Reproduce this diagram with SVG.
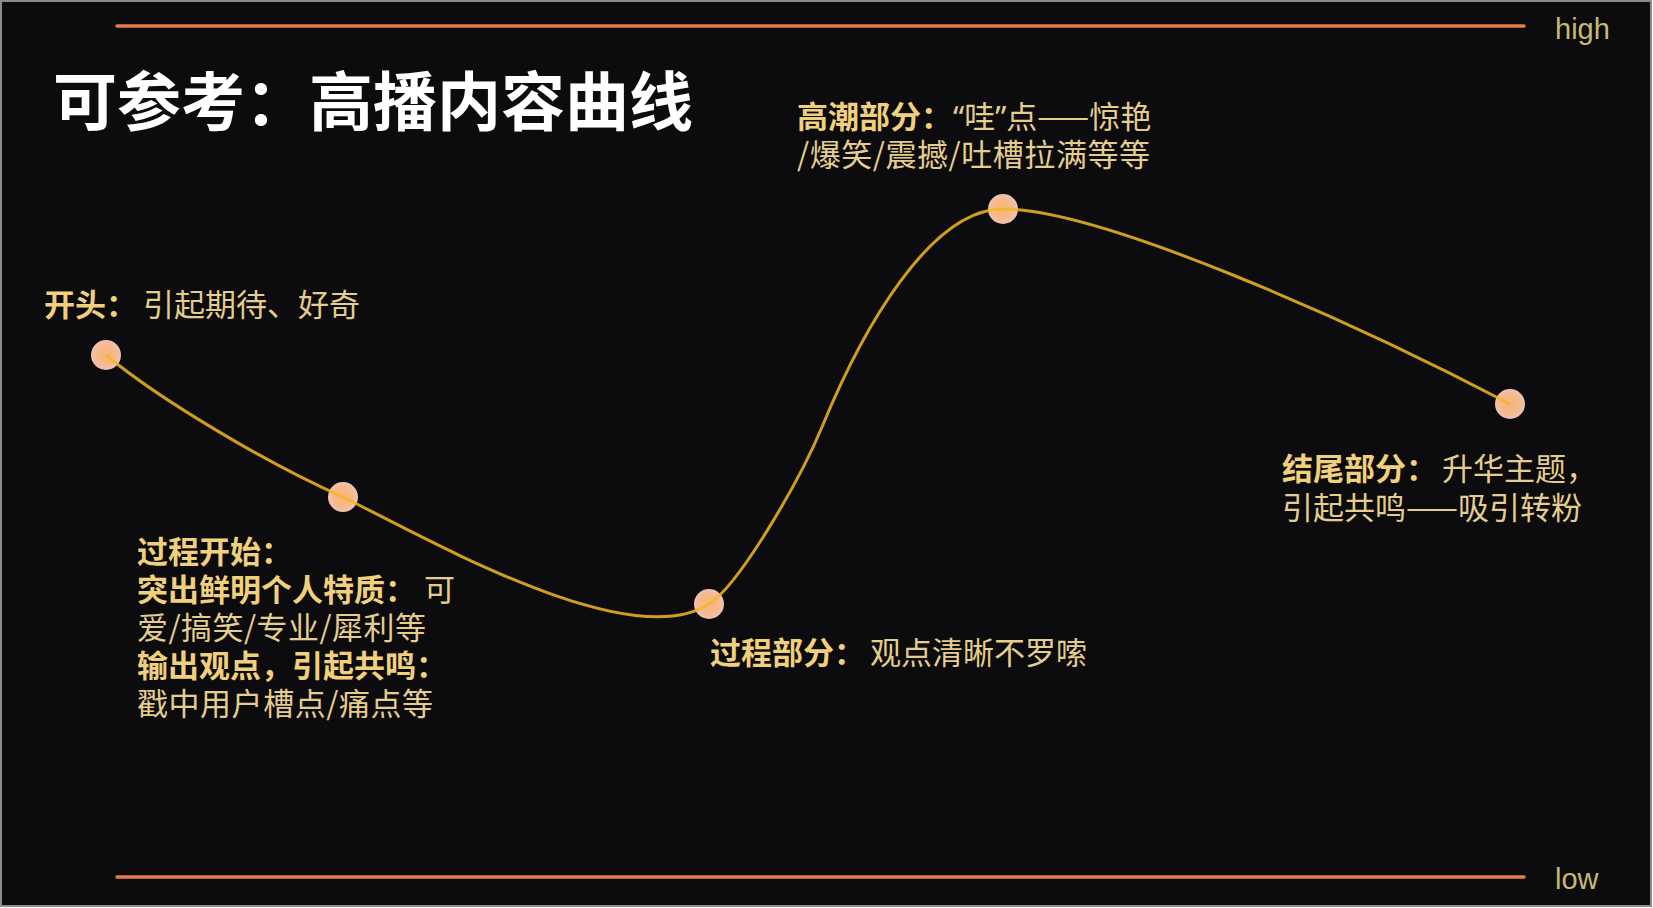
<svg xmlns="http://www.w3.org/2000/svg" width="1653" height="908" viewBox="0 0 1653 908">
<style>
  .cn { font-family: "Noto Sans CJK SC", "Noto Sans", sans-serif; font-size: 31px; }
  .b { font-weight: 700; fill: #f0d07c; }
  .r { font-weight: 400; fill: #e4cd8e; }
  .q { font-family: "Noto Sans", "Noto Sans CJK SC", sans-serif; }
  .axis { stroke: #e27c4a; stroke-width: 3.5; stroke-linecap: round; }
  .lbl { font-family: "Liberation Sans", Arial, sans-serif; font-size: 29px; fill: #c8b978; }
  .curve { fill: none; stroke: #f2b824; stroke-width: 3; stroke-opacity: 0.85; }
  .dot { fill: url(#dotGrad); }
</style>
<defs>
  <radialGradient id="dotGrad" cx="0.5" cy="0.5" r="0.5">
    <stop offset="0" stop-color="#f8b47c"/>
    <stop offset="0.7" stop-color="#f6ba8c"/>
    <stop offset="1" stop-color="#efc2bb"/>
  </radialGradient>
</defs>
<rect x="1" y="1" width="1650" height="905" fill="#0c0b0d" stroke="#8c8c8c" stroke-width="2"/>

<g id="axes">
  <line class="axis" x1="117" y1="26" x2="1524" y2="26"/>
  <line class="axis" x1="117" y1="877" x2="1524" y2="877"/>
  <text class="lbl" x="1555" y="39">high</text>
  <text class="lbl" x="1555" y="889">low</text>
</g>

<g id="title">
  <text x="53" y="125" font-family="Noto Sans CJK SC, Noto Sans, sans-serif" font-size="64" font-weight="700" fill="#ffffff">可参考：高播内容曲线</text>
</g>

<g id="nodes">
  <g id="n1"><circle class="dot" cx="106" cy="355" r="15"/></g>
  <g id="n2"><circle class="dot" cx="343" cy="497" r="15"/></g>
  <g id="n3"><circle class="dot" cx="709" cy="604" r="15"/></g>
  <g id="n4"><circle class="dot" cx="1003" cy="209" r="15"/></g>
  <g id="n5"><circle class="dot" cx="1510" cy="404" r="15"/></g>
</g>

<g id="connectors">
  <path class="curve" d="M106,355 C160,400 270,465 343,497 C430,540 630,655 709,604 C740,584 800,480 822,427 C862,330 930,209 1003,209 C1100,209 1350,320 1510,404"/>
</g>

<g id="label-start">
  <text class="cn" y="316"><tspan class="b" x="44">开头：</tspan><tspan class="r" x="143">引起期待、好奇</tspan></text>
</g>

<g id="label-process-start">
  <text class="cn b" x="137" y="563">过程开始：</text>
  <text class="cn" y="601"><tspan class="b" x="137">突出鲜明个人特质：</tspan><tspan class="r" x="424">可</tspan></text>
  <text class="cn r" x="137" y="639" textLength="289" lengthAdjust="spacing">爱/搞笑/专业/犀利等</text>
  <text class="cn b" x="137" y="677">输出观点，引起共鸣：</text>
  <text class="cn r" x="137" y="715" textLength="296" lengthAdjust="spacing">戳中用户槽点/痛点等</text>
</g>

<g id="label-process">
  <text class="cn" y="664"><tspan class="b" x="710">过程部分：</tspan><tspan class="r" x="870">观点清晰不罗嗦</tspan></text>
</g>

<g id="label-climax">
  <text class="cn" y="128"><tspan class="b" x="797">高潮部分：</tspan><tspan class="r q" x="953">“</tspan><tspan class="r">哇</tspan><tspan class="r q">”</tspan><tspan class="r">点——惊艳</tspan></text>
  <text class="cn r" x="797" y="166" textLength="353" lengthAdjust="spacing">/爆笑/震撼/吐槽拉满等等</text>
</g>

<g id="label-end">
  <text class="cn" y="480"><tspan class="b" x="1282">结尾部分：</tspan><tspan class="r" x="1442">升华主题，</tspan></text>
  <text class="cn r" x="1282" y="519">引起共鸣——吸引转粉</text>
</g>
</svg>
